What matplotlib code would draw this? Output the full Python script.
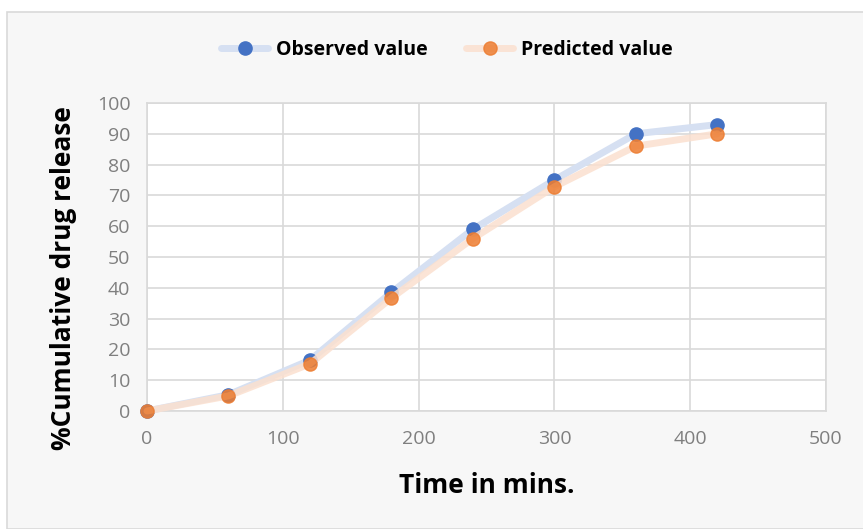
import matplotlib.pyplot as plt
from matplotlib.patches import Rectangle

time_min = [0, 60, 120, 180, 240, 300, 360, 420]
observed = [0, 5.3, 16.5, 38.5, 59.0, 75.0, 90.0, 93.0]
predicted = [0, 4.9, 15.3, 36.7, 56.0, 72.8, 86.0, 90.0]

plt.rcParams['font.family'] = ['Open Sans', 'DejaVu Sans']

fig = plt.figure(figsize=(8.63, 5.29), dpi=100, facecolor='white')
# chart frame behind everything
fig.patches.append(Rectangle((7 / 863, 0), 1, 1 - 12 / 529, transform=fig.transFigure,
                             facecolor='#f7f7f7', edgecolor='#d9d9d9', lw=1.2, zorder=-10))

ax = fig.add_axes([147 / 863, 1 - 411 / 529, (826 - 147) / 863, (411 - 103) / 529])
ax.set_facecolor('white')

blue, orange = '#4472C4', '#ED7D31'
ax.plot(time_min, observed, color='#d6e0f2', lw=5, solid_capstyle='round', zorder=3,
        marker='o', ms=9.5, mfc=blue, mec=blue, label='Observed value')
ax.plot(time_min, predicted, color='#fbe0cf', lw=5, alpha=0.85, solid_capstyle='round', zorder=4,
        marker='o', ms=9.5, mfc=orange, mec=orange, label='Predicted value')

ax.set_xlim(0, 500)
ax.set_ylim(0, 100)
ax.set_xticks(range(0, 501, 100))
ax.set_yticks(range(0, 101, 10))
ax.grid(True, color='#d9d9d9', lw=1.2)
ax.set_axisbelow(True)
for s in ax.spines.values():
    s.set_color('#d9d9d9')
    s.set_linewidth(1.2)
ax.tick_params(length=0, labelsize=14, colors='#7f7f7f')
ax.tick_params(axis='y', pad=12)
ax.tick_params(axis='x', pad=14)
for line in ax.get_lines():
    line.set_clip_on(False)

ax.set_xlabel('Time in mins.', fontsize=19, fontweight='bold', color='black', labelpad=17)
ax.set_ylabel('%Cumulative drug release', fontsize=19, fontweight='bold', color='black')
ax.yaxis.set_label_coords(-0.103, 0.43)

fig.legend(loc='center', bbox_to_anchor=(447 / 863, 1 - 50 / 529), ncol=2, frameon=False,
           prop={'weight': 'bold', 'size': 14}, handlelength=2.4, columnspacing=2.0, handletextpad=0.4)

fig.savefig('out.png', dpi=100, facecolor=fig.get_facecolor())
